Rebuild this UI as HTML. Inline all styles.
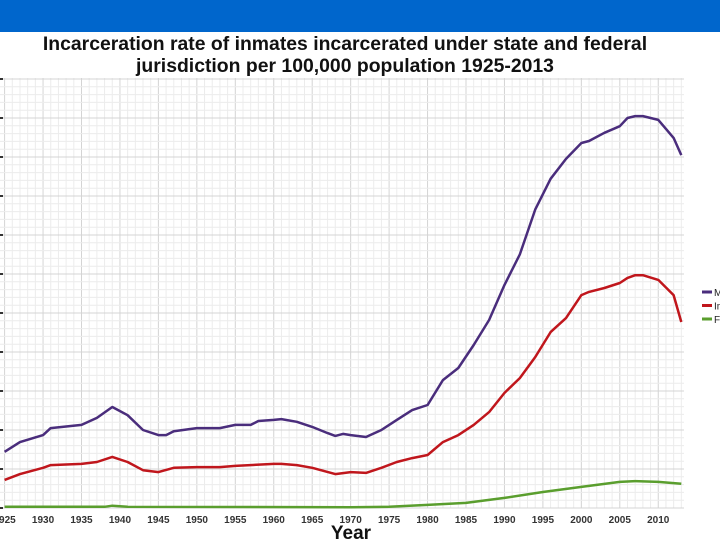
<!DOCTYPE html>
<html><head><meta charset="utf-8"><style>
body{margin:0;width:720px;height:540px;background:#fff;overflow:hidden;font-family:"Liberation Sans",sans-serif}
#hdr{position:absolute;left:0;top:0;width:720px;height:32px;background:#0066cc}
#title{position:absolute;left:0;top:34px;width:690px;text-align:center;font-weight:bold;font-size:19px;line-height:22px;color:#111;transform:scaleX(1.02);transform-origin:345px 0}
svg{position:absolute;left:0;top:0}
</style></head><body>
<div id="hdr"></div>
<div id="title">Incarceration rate of inmates incarcerated under state and federal<br>jurisdiction per 100,000 population 1925-2013</div>
<svg id="chart" width="720" height="540"></svg>
<script>
const maleYears=[1925,1927,1930,1931,1935,1937,1939,1941,1943,1945,1946,1947,1950,1953,1955,1957,1958,1960,1961,1963,1965,1967,1968,1969,1970,1972,1974,1976,1978,1980,1982,1984,1986,1988,1990,1992,1994,1996,1998,2000,2001,2003,2005,2006,2007,2008,2010,2012,2013];
const maleVals=[144,169,187,205,213,231,259,238,200,187,187,197,205,205,213,213,223,226,228,221,208,192,185,190,187,182,200,226,251,264,328,359,418,482,572,650,765,844,895,936,941,962,979,1000,1005,1005,995,949,905];
const totYears=[1925,1927,1930,1931,1935,1937,1939,1941,1943,1945,1947,1950,1953,1955,1960,1961,1963,1965,1968,1970,1972,1974,1976,1978,1980,1982,1984,1986,1988,1990,1992,1994,1996,1998,2000,2001,2003,2005,2006,2007,2008,2010,2012,2013];
const totVals=[72,87,103,110,113,118,131,118,97,92,103,105,105,108,113,113,110,103,87,92,90,103,118,128,136,169,187,213,246,295,333,387,451,487,546,554,564,577,590,597,597,585,546,477];
const femYears=[1925,1938,1939,1941,1970,1975,1980,1985,1990,1995,2000,2005,2007,2010,2013];
const femVals=[3,3,6,3,2,3,8,13,26,41,54,67,69,67,62];
const xTicks=[1925,1930,1935,1940,1945,1950,1955,1960,1965,1970,1975,1980,1985,1990,1995,2000,2005,2010];
const legendLabels=["M","In","F"];
const X0=4.6,PX=7.69,Y0=508,PY=0.39;
const xs=y=>X0+(y-1925)*PX, ys=v=>Y0-v*PY;
const svg=document.getElementById('chart'),NS="http://www.w3.org/2000/svg";
function mk(t,a){const e=document.createElementNS(NS,t);for(const k in a)e.setAttribute(k,a[k]);svg.appendChild(e);return e;}
for(let yr=1925;yr<=2013;yr++){const l=mk('line',{x1:xs(yr),x2:xs(yr),y1:78,y2:508,stroke:yr%5==0?'#d4d4d4':'#ececec','stroke-width':1});

}
for(let v=0;v<=1100;v+=20){const l=mk('line',{x1:0,x2:684,y1:ys(v),y2:ys(v),stroke:v%100==0?'#d4d4d4':'#ececec','stroke-width':1});


if(v%100==0){const t=mk('line',{x1:0,x2:3,y1:ys(v),y2:ys(v),stroke:'#333','stroke-width':2});

}}
function series(yrs,vals,color,name){const d=yrs.map((y,i)=>(i?'L':'M')+xs(y).toFixed(1)+','+ys(vals[i]).toFixed(1)).join(' ');
const p=mk('path',{d:d,fill:'none',stroke:color,'stroke-width':2.5,'stroke-linejoin':'round'});

}
series(femYears,femVals,'#5a9e2e','female-line');
series(totYears,totVals,'#c0161c','total-line');
series(maleYears,maleVals,'#4a2d7c','male-line');
xTicks.forEach(yr=>{const t=mk('text',{x:xs(yr),y:523,'text-anchor':'middle','font-size':10,'font-weight':'bold',fill:'#333'});t.textContent=yr;

});
const xt=mk('text',{x:351,y:539,'text-anchor':'middle','font-size':19,'font-weight':'bold',fill:'#111'});xt.textContent='Year';


const lc=['#4a2d7c','#c0161c','#5a9e2e'];
legendLabels.forEach((s,i)=>{const y=292+i*13.5;
const l=mk('line',{x1:702,x2:712,y1:y,y2:y,stroke:lc[i],'stroke-width':3});


const t=mk('text',{x:714,y:y+4,'font-size':10,fill:'#222'});t.textContent=s;

});
</script>
</body></html>
